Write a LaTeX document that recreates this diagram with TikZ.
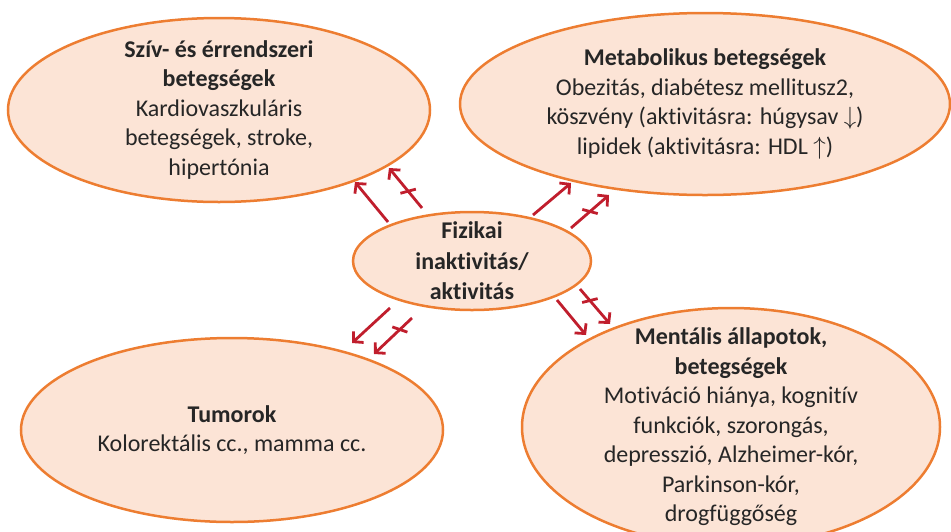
\documentclass[tikz,border=0pt]{standalone}
\usepackage{fontspec}
\setmainfont{Carlito}[Ligatures=NoCommon]
\usepackage{tikz}
\usetikzlibrary{shapes.geometric,arrows.meta}
\definecolor{peach}{RGB}{252,228,214}
\definecolor{orangeline}{RGB}{237,125,49}
\definecolor{darkred}{RGB}{192,30,45}
\definecolor{textgray}{RGB}{38,38,38}

\begin{document}
\begin{tikzpicture}[x=1pt,y=-1pt,
    bubble/.style={ellipse,draw=orangeline,fill=peach,line width=2.5pt,inner sep=0pt},
    txt/.style={align=center,text=textgray,font=\fontsize{24}{29.5}\selectfont},
    arr/.style={draw=darkred,line width=2.8pt,-{Straight Barb[length=7pt,width=15pt]}},
    bar/.style={draw=darkred,line width=2.8pt}]
  \useasboundingbox (0,0) rectangle (951,531);
  % bubbles
  \node[bubble,minimum width=422pt,minimum height=184pt](tl)at(219,110){};
  \node[bubble,minimum width=490pt,minimum height=182pt](tr)at(705,104){};
  \node[bubble,minimum width=422pt,minimum height=184pt](bl)at(232,430){};
  \node[bubble,minimum width=418pt,minimum height=238pt](br)at(731,427){};
  \node[bubble,minimum width=238pt,minimum height=98pt](c)at(472,261){};
  % texts
  \node[txt](tltext)at(tl){\textbf{Szív- és érrendszeri}\\\textbf{betegségek}\\Kardiovaszkuláris\\betegségek, stroke,\\hipertónia};
  \node[txt](trtext)at(tr){\textbf{Metabolikus betegségek}\\Obezitás, diabétesz mellitusz2,\\köszvény (aktivitásra: húgysav $\downarrow$)\\lipidek (aktivitásra: HDL $\uparrow$)};
  \node[txt](bltext)at(bl){\textbf{Tumorok}\\Kolorektális cc., mamma cc.};
  \node[txt](brtext)at(br){\textbf{Mentális állapotok,}\\\textbf{betegségek}\\Motiváció hiánya, kognitív\\funkciók, szorongás,\\depresszió, Alzheimer-kór,\\Parkinson-kór,\\drogfüggőség};
  \node[txt,font=\bfseries\fontsize{24}{30.5}\selectfont](ctext)at(c){Fizikai\\inaktivitás/\\aktivitás};
  % arrows
  \draw[arr]([shift={(-84,-39)}]c.center)--([shift={(136,72)}]tl.center);
  \draw[arr]([shift={(-50,-53)}]c.center)--([shift={(170,58)}]tl.center)coordinate[pos=.42](x1);
  \draw[bar]([shift={(15:8pt)}]x1)--([shift={(195:8pt)}]x1);
  \draw[arr]([shift={(61,-46)}]c.center)--([shift={(-134,79)}]tr.center);
  \draw[arr]([shift={(99,-33)}]c.center)--([shift={(-96,91)}]tr.center)coordinate[pos=.5](x2);
  \draw[bar]([shift={(-15:8pt)}]x2)--([shift={(165:8pt)}]x2);
  \draw[arr]([shift={(-82,47)}]c.center)--([shift={(120,-87)}]bl.center);
  \draw[arr]([shift={(-60,57)}]c.center)--([shift={(142,-76)}]bl.center)coordinate[pos=.32](x3);
  \draw[bar]([shift={(-19:8pt)}]x3)--([shift={(161:8pt)}]x3);
  \draw[arr]([shift={(85,39)}]c.center)--([shift={(-145,-92)}]br.center);
  \draw[arr]([shift={(108,28)}]c.center)--([shift={(-121,-103)}]br.center)coordinate[pos=.33](x4);
  \draw[bar]([shift={(14:8pt)}]x4)--([shift={(194:8pt)}]x4);
\end{tikzpicture}
\end{document}
